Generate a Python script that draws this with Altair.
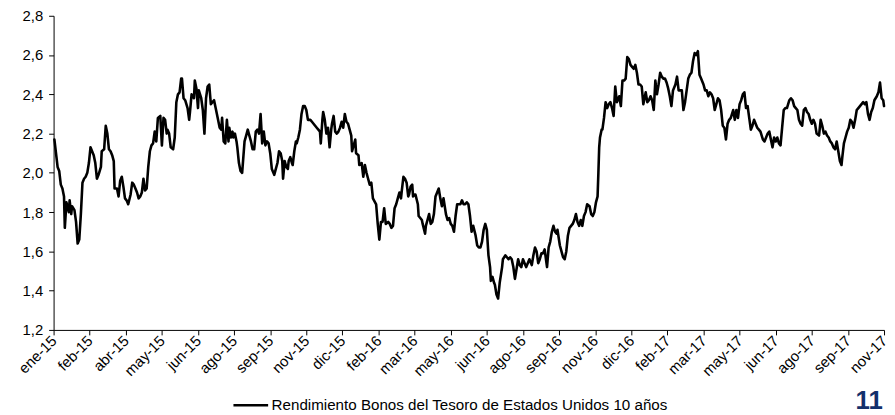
import altair as alt
import pandas as pd
from datetime import date, timedelta

# ---------------- data ----------------
START = date(2015, 1, 1)
END = date(2017, 11, 1)
SERIES = "Rendimiento Bonos del Tesoro de Estados Unidos 10 años"
PAGE_NUMBER = "11"
MONTHS = ["ene", "feb", "mar", "abr", "may", "jun", "jul", "ago", "sep", "oct", "nov", "dic"]
TICK_STEP_DAYS = 45
Y_TICKS = [1.2, 1.4, 1.6, 1.8, 2.0, 2.2, 2.4, 2.6, 2.8]

# days since 2015-01-01
day_offsets = [
    1, 5, 7, 9, 11, 13, 14, 16, 19, 20, 22, 23, 26, 28, 30, 32, 34, 36, 38, 40,
    42, 44, 46, 48, 50, 52, 54, 56, 59, 60, 63, 65, 67, 69, 71, 73, 75, 76, 79, 81,
    83, 85, 87, 89, 91, 93, 96, 98, 100, 102, 104, 106, 108, 110, 112, 114, 116, 118, 120, 122,
    124, 126, 128, 130, 133, 135, 137, 139, 141, 142, 144, 146, 149, 151, 153, 155, 157, 159, 160, 162,
    164, 167, 169, 170, 172, 175, 176, 178, 180, 181, 184, 186, 188, 190, 192, 194, 196, 198, 200, 202,
    205, 207, 209, 210, 212, 214, 216, 218, 219, 221, 223, 224, 226, 228, 229, 231, 233, 235, 238, 240,
    242, 244, 246, 248, 250, 252, 254, 256, 258, 260, 262, 264, 266, 268, 270, 272, 275, 277, 279, 281,
    283, 285, 286, 288, 290, 292, 293, 295, 297, 298, 300, 302, 303, 305, 307, 309, 311, 313, 315, 317,
    318, 320, 322, 324, 326, 328, 330, 332, 333, 335, 336, 338, 340, 342, 344, 346, 347, 349, 351, 353,
    355, 357, 359, 361, 363, 365, 367, 369, 371, 372, 374, 376, 377, 380, 381, 384, 386, 388, 390, 392,
    394, 396, 398, 402, 404, 406, 408, 410, 412, 414, 417, 419, 421, 423, 425, 427, 429, 431, 433, 434,
    436, 438, 440, 442, 443, 445, 447, 448, 450, 451, 454, 455, 457, 459, 460, 463, 464, 466, 468, 470,
    472, 474, 476, 478, 480, 482, 484, 486, 489, 491, 493, 495, 497, 499, 501, 503, 505, 507, 509, 511,
    513, 515, 517, 519, 521, 523, 526, 528, 530, 532, 534, 536, 538, 540, 542, 544, 545, 547, 549, 550,
    552, 554, 556, 559, 560, 563, 565, 567, 569, 571, 573, 575, 577, 579, 581, 583, 585, 587, 589, 591,
    593, 596, 598, 600, 602, 604, 606, 608, 610, 612, 614, 615, 617, 619, 621, 623, 625, 627, 628, 631,
    633, 635, 637, 639, 641, 643, 645, 647, 649, 651, 653, 655, 657, 659, 661, 663, 665, 668, 670, 672,
    674, 676, 678, 679, 680, 681, 683, 684, 686, 688, 690, 692, 694, 696, 698, 700, 702, 705, 707, 709,
    711, 713, 715, 717, 719, 721, 723, 725, 727, 729, 731, 733, 735, 738, 740, 742, 744, 746, 748, 750,
    752, 754, 756, 758, 760, 762, 764, 766, 768, 770, 772, 775, 777, 779, 781, 783, 785, 787, 789, 791,
    793, 795, 797, 799, 801, 803, 805, 807, 810, 812, 814, 816, 818, 820, 822, 824, 826, 828, 830, 832,
    834, 836, 838, 840, 842, 844, 847, 849, 851, 853, 855, 857, 859, 861, 863, 865, 867, 869, 871, 873,
    875, 877, 879, 881, 884, 886, 888, 890, 892, 894, 896, 898, 900, 902, 904, 906, 908, 910, 912, 914,
    917, 919, 921, 923, 925, 927, 929, 931, 933, 935, 937, 939, 941, 943, 945, 947, 949, 951, 954, 956,
    958, 960, 962, 964, 966, 968, 970, 972, 974, 976, 978, 980, 982, 983, 985, 987, 989, 991, 993, 995,
    997, 999, 1001, 1003, 1005, 1007, 1009, 1011, 1013, 1015, 1017, 1019, 1021, 1023, 1026, 1028, 1030, 1032, 1034, 1035,
]

yields = [
    2.17, 2.03, 2.01, 1.94, 1.92, 1.88, 1.72, 1.85, 1.80, 1.86, 1.79, 1.83, 1.81, 1.75, 1.64, 1.66, 1.79, 1.95, 1.97, 1.98,
    2.00, 2.05, 2.13, 2.11, 2.09, 2.05, 1.97, 1.99, 2.03, 2.11, 2.12, 2.24, 2.20, 2.12, 2.11, 2.09, 2.06, 1.92, 1.92, 1.88,
    1.96, 1.98, 1.93, 1.87, 1.86, 1.84, 1.89, 1.95, 1.94, 1.92, 1.90, 1.87, 1.88, 1.90, 1.97, 1.91, 1.92, 2.03, 2.11, 2.14,
    2.15, 2.21, 2.16, 2.28, 2.29, 2.14, 2.28, 2.27, 2.20, 2.22, 2.20, 2.13, 2.12, 2.18, 2.36, 2.40, 2.41, 2.48, 2.48, 2.38,
    2.37, 2.33, 2.27, 2.31, 2.40, 2.38, 2.47, 2.43, 2.33, 2.42, 2.38, 2.32, 2.20, 2.38, 2.44, 2.45, 2.35, 2.36, 2.37, 2.33,
    2.27, 2.23, 2.22, 2.28, 2.16, 2.15, 2.27, 2.16, 2.23, 2.18, 2.21, 2.18, 2.20, 2.16, 2.13, 2.05, 2.01, 2.00, 2.16, 2.19,
    2.22, 2.19, 2.16, 2.12, 2.12, 2.21, 2.22, 2.20, 2.30, 2.15, 2.21, 2.14, 2.16, 2.15, 2.10, 2.02, 1.99, 2.02, 2.05, 2.11,
    2.10, 2.06, 1.97, 2.06, 2.03, 2.02, 2.06, 2.08, 2.05, 2.04, 2.11, 2.16, 2.15, 2.18, 2.22, 2.30, 2.34, 2.34, 2.32, 2.27,
    2.27, 2.27, 2.26, 2.25, 2.24, 2.23, 2.22, 2.21, 2.15, 2.27, 2.31, 2.27, 2.20, 2.23, 2.13, 2.22, 2.25, 2.29, 2.21, 2.20,
    2.21, 2.23, 2.26, 2.23, 2.30, 2.26, 2.25, 2.22, 2.19, 2.11, 2.14, 2.17, 2.10, 2.09, 2.04, 2.05, 1.98, 2.04, 2.00, 1.97,
    1.94, 1.95, 1.87, 1.84, 1.74, 1.66, 1.75, 1.75, 1.82, 1.74, 1.75, 1.74, 1.72, 1.73, 1.82, 1.84, 1.87, 1.90, 1.87, 1.91,
    1.98, 1.97, 1.95, 1.88, 1.89, 1.93, 1.94, 1.88, 1.89, 1.89, 1.84, 1.78, 1.77, 1.76, 1.74, 1.69, 1.73, 1.76, 1.79, 1.74,
    1.75, 1.79, 1.88, 1.90, 1.92, 1.87, 1.83, 1.87, 1.79, 1.76, 1.77, 1.74, 1.73, 1.70, 1.78, 1.84, 1.84, 1.84, 1.86, 1.84,
    1.84, 1.85, 1.84, 1.78, 1.70, 1.73, 1.68, 1.63, 1.62, 1.62, 1.65, 1.71, 1.74, 1.71, 1.58, 1.52, 1.45, 1.47, 1.44, 1.43,
    1.38, 1.36, 1.44, 1.52, 1.56, 1.58, 1.57, 1.56, 1.57, 1.56, 1.52, 1.46, 1.51, 1.56, 1.53, 1.52, 1.56, 1.54, 1.52, 1.54,
    1.56, 1.53, 1.58, 1.62, 1.60, 1.54, 1.56, 1.59, 1.59, 1.61, 1.55, 1.52, 1.62, 1.65, 1.70, 1.73, 1.70, 1.69, 1.71, 1.63,
    1.60, 1.57, 1.56, 1.60, 1.68, 1.72, 1.73, 1.74, 1.76, 1.79, 1.75, 1.73, 1.76, 1.73, 1.78, 1.80, 1.84, 1.83, 1.79, 1.78,
    1.80, 1.85, 1.88, 2.00, 2.13, 2.18, 2.22, 2.22, 2.28, 2.36, 2.33, 2.35, 2.36, 2.33, 2.29, 2.44, 2.36, 2.39, 2.34, 2.47,
    2.47, 2.48, 2.59, 2.58, 2.55, 2.54, 2.53, 2.55, 2.51, 2.45, 2.45, 2.44, 2.35, 2.41, 2.36, 2.37, 2.39, 2.37, 2.32, 2.47,
    2.40, 2.45, 2.51, 2.49, 2.48, 2.48, 2.46, 2.43, 2.39, 2.34, 2.42, 2.45, 2.49, 2.42, 2.42, 2.42, 2.32, 2.36, 2.42, 2.48,
    2.50, 2.51, 2.57, 2.61, 2.60, 2.62, 2.50, 2.48, 2.45, 2.42, 2.42, 2.39, 2.41, 2.40, 2.38, 2.32, 2.35, 2.38, 2.37, 2.32,
    2.24, 2.23, 2.17, 2.25, 2.27, 2.28, 2.32, 2.27, 2.32, 2.28, 2.35, 2.37, 2.40, 2.41, 2.33, 2.34, 2.28, 2.22, 2.24, 2.27,
    2.25, 2.23, 2.22, 2.21, 2.17, 2.16, 2.18, 2.20, 2.21, 2.17, 2.13, 2.18, 2.16, 2.18, 2.15, 2.14, 2.23, 2.32, 2.33, 2.33,
    2.37, 2.38, 2.37, 2.34, 2.33, 2.32, 2.27, 2.25, 2.24, 2.32, 2.33, 2.31, 2.30, 2.27, 2.25, 2.27, 2.25, 2.20, 2.19, 2.27,
    2.24, 2.20, 2.21, 2.19, 2.18, 2.16, 2.15, 2.13, 2.12, 2.16, 2.11, 2.06, 2.04, 2.08, 2.15, 2.18, 2.21, 2.23, 2.27, 2.26,
    2.23, 2.27, 2.32, 2.33, 2.34, 2.35, 2.36, 2.35, 2.36, 2.30, 2.27, 2.31, 2.33, 2.37, 2.39, 2.41, 2.46, 2.38, 2.37, 2.34,
]

# ---------------- build table ----------------
df = pd.DataFrame({
    "fecha": [(START + timedelta(days=d)).isoformat() for d in day_offsets],
    "valor": yields,
    "serie": [SERIES] * len(yields),
})


def dt(d):
    return alt.DateTime(year=d.year, month=d.month, date=d.day, utc=True)


n_ticks = (END - START).days // TICK_STEP_DAYS + 1
tick_values = [dt(START + timedelta(days=TICK_STEP_DAYS * k)) for k in range(n_ticks)]
months_js = "[" + ",".join("'%s'" % m for m in MONTHS) + "]"
x_label_expr = months_js + "[utcmonth(datum.value)] + '-' + utcFormat(datum.value, '%y')"
y_label_expr = "replace(format(datum.value, '.1f'), '.', ',')"

FONT = "Liberation Sans"

line = alt.Chart(df).mark_line(strokeWidth=2.6, strokeJoin="round", strokeCap="round").encode(
    x=alt.X(
        "fecha:T",
        scale=alt.Scale(type="utc", domain=[dt(START), dt(END)], nice=False),
        axis=alt.Axis(
            values=tick_values,
            labelExpr=x_label_expr,
            labelAngle=315,
            labelAlign="right",
            labelBaseline="middle",
            labelPadding=3,
            labelFlush=False,
            labelOverlap=False,
            labelFont=FONT,
            labelFontSize=15,
            labelColor="black",
            tickSize=5,
            tickColor="black",
            domainColor="black",
            grid=False,
            title=None,
        ),
    ),
    y=alt.Y(
        "valor:Q",
        scale=alt.Scale(domain=[Y_TICKS[0], Y_TICKS[-1]], nice=False, zero=False),
        axis=alt.Axis(
            values=Y_TICKS,
            labelExpr=y_label_expr,
            labelPadding=6,
            labelFont=FONT,
            labelFontSize=15,
            labelColor="black",
            tickSize=5,
            tickColor="black",
            domainColor="black",
            grid=False,
            title=None,
        ),
    ),
    color=alt.Color(
        "serie:N",
        scale=alt.Scale(range=["black"]),
        legend=alt.Legend(
            orient="none",
            legendX=180,
            legendY=374,
            title=None,
            symbolType="stroke",
            symbolSize=1225,
            symbolStrokeWidth=2.6,
            symbolStrokeColor="black",
            labelFont=FONT,
            labelFontSize=15.3,
            labelColor="black",
            labelLimit=0,
            labelOffset=2,
            padding=0,
        ),
    ),
)

page = alt.Chart(pd.DataFrame({"t": [PAGE_NUMBER]})).mark_text(
    font=FONT, fontSize=26, fontWeight="bold", color="#13306b", align="center", baseline="alphabetic"
).encode(text="t:N", x=alt.value(823), y=alt.value(397))

chart = alt.layer(line, page).properties(
    width=838,
    height=317,
    autosize=alt.AutoSizeParams(type="none"),
    padding={"left": 46, "top": 6, "right": 3, "bottom": 84},
    background="white",
).configure_view(stroke=None)

chart.save("out.html", embed_options={"renderer": "svg", "actions": False})
